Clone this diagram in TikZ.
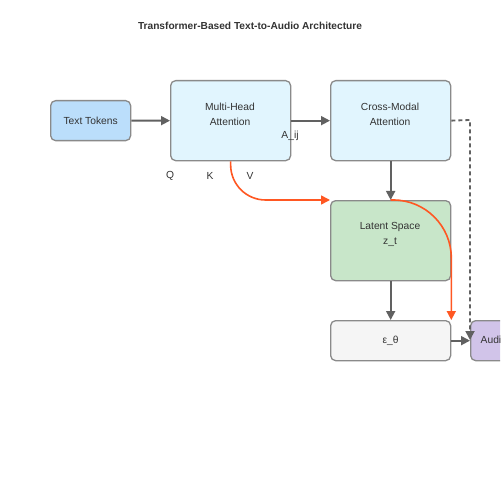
\documentclass[tikz,border=0pt]{standalone}
\usepackage{fontspec}
\setmainfont{Liberation Sans}
\usetikzlibrary{arrows.meta}
\definecolor{edgegray}{HTML}{616161}
\definecolor{boxborder}{HTML}{8A8A8A}
\definecolor{txtcol}{HTML}{333333}
\definecolor{orangeline}{HTML}{FF5722}
\definecolor{tokfill}{HTML}{BBDEFB}
\definecolor{attfill}{HTML}{E1F5FE}
\definecolor{latfill}{HTML}{C8E6C9}
\definecolor{epsfill}{HTML}{F5F5F5}
\definecolor{audfill}{HTML}{D1C4E9}
\begin{document}
\begin{tikzpicture}[x=1bp,y=-1bp,
  box/.style={draw=boxborder,line width=1.3bp,rounded corners=5bp,inner sep=0pt,anchor=north west},
  lbl/.style={text=txtcol,font=\fontsize{10.3}{15}\selectfont,align=center,inner sep=0pt},
  flow/.style={draw=edgegray,line width=1.8bp,-{Triangle[length=9bp,width=9bp]}},
  hot/.style={draw=orangeline,line width=1.6bp,-{Triangle[length=9bp,width=9bp]},color=orangeline}]
\useasboundingbox (0,0) rectangle (500,500);
\clip (0,0) rectangle (500,500);
\fill[white] (0,0) rectangle (500,500);
\node[text=txtcol,font=\bfseries\fontsize{10.2}{12}\selectfont] (title) at (250,26) {Transformer-Based Text-to-Audio Architecture};
% boxes
\node[box,fill=tokfill,minimum width=80bp,minimum height=40bp] (tok) at (50,100) {};
\node[box,fill=attfill,minimum width=120bp,minimum height=80bp] (mha) at (170,80) {};
\node[box,fill=attfill,minimum width=120bp,minimum height=80bp] (cma) at (330,80) {};
\node[box,fill=latfill,minimum width=120bp,minimum height=80bp] (lat) at (330,200) {};
\node[box,fill=epsfill,minimum width=120bp,minimum height=40bp] (eps) at (330,320) {};
\node[box,fill=audfill,minimum width=80bp,minimum height=40bp] (aud) at (470,320) {};
% texts
\node[lbl] (tokt) at (tok.center) {Text Tokens};
\node[lbl] (mhat) at (230,114) {Multi-Head\\Attention};
\node[lbl] (cmat) at (390,114) {Cross-Modal\\Attention};
\node[lbl] (latt) at (390,234) {Latent Space\\z\_t};
\node[lbl] (epst) at (eps.center) {ε\_θ};
\node[lbl] (audt) at (aud.center) {Audio Output};
\node[lbl] (q) at (170,176) {Q};
\node[lbl] (k) at (210,176) {K};
\node[lbl] (v) at (250,176) {V};
\node[lbl] (aij) at (290,136) {A\_ij};
% connectors
\draw[flow] (tok.east) -- (mha.west);
\draw[flow] (mha.east) -- (cma.west);
\draw[flow] (cma.south) -- (lat.north);
\draw[flow] (lat.south) -- (eps.north);
\draw[flow] (eps.east) -- (aud.west);
\coordinate (dturn) at (470,120);
\draw[flow,dashed,dash pattern=on 4bp off 3bp] (cma.east) -- (dturn) -- (470,340);
\draw[hot,rounded corners=35bp] (mha.south) |- (lat.north west);
\draw[hot,rounded corners=58bp] (lat.north) -| (eps.north east);
\end{tikzpicture}
\end{document}
